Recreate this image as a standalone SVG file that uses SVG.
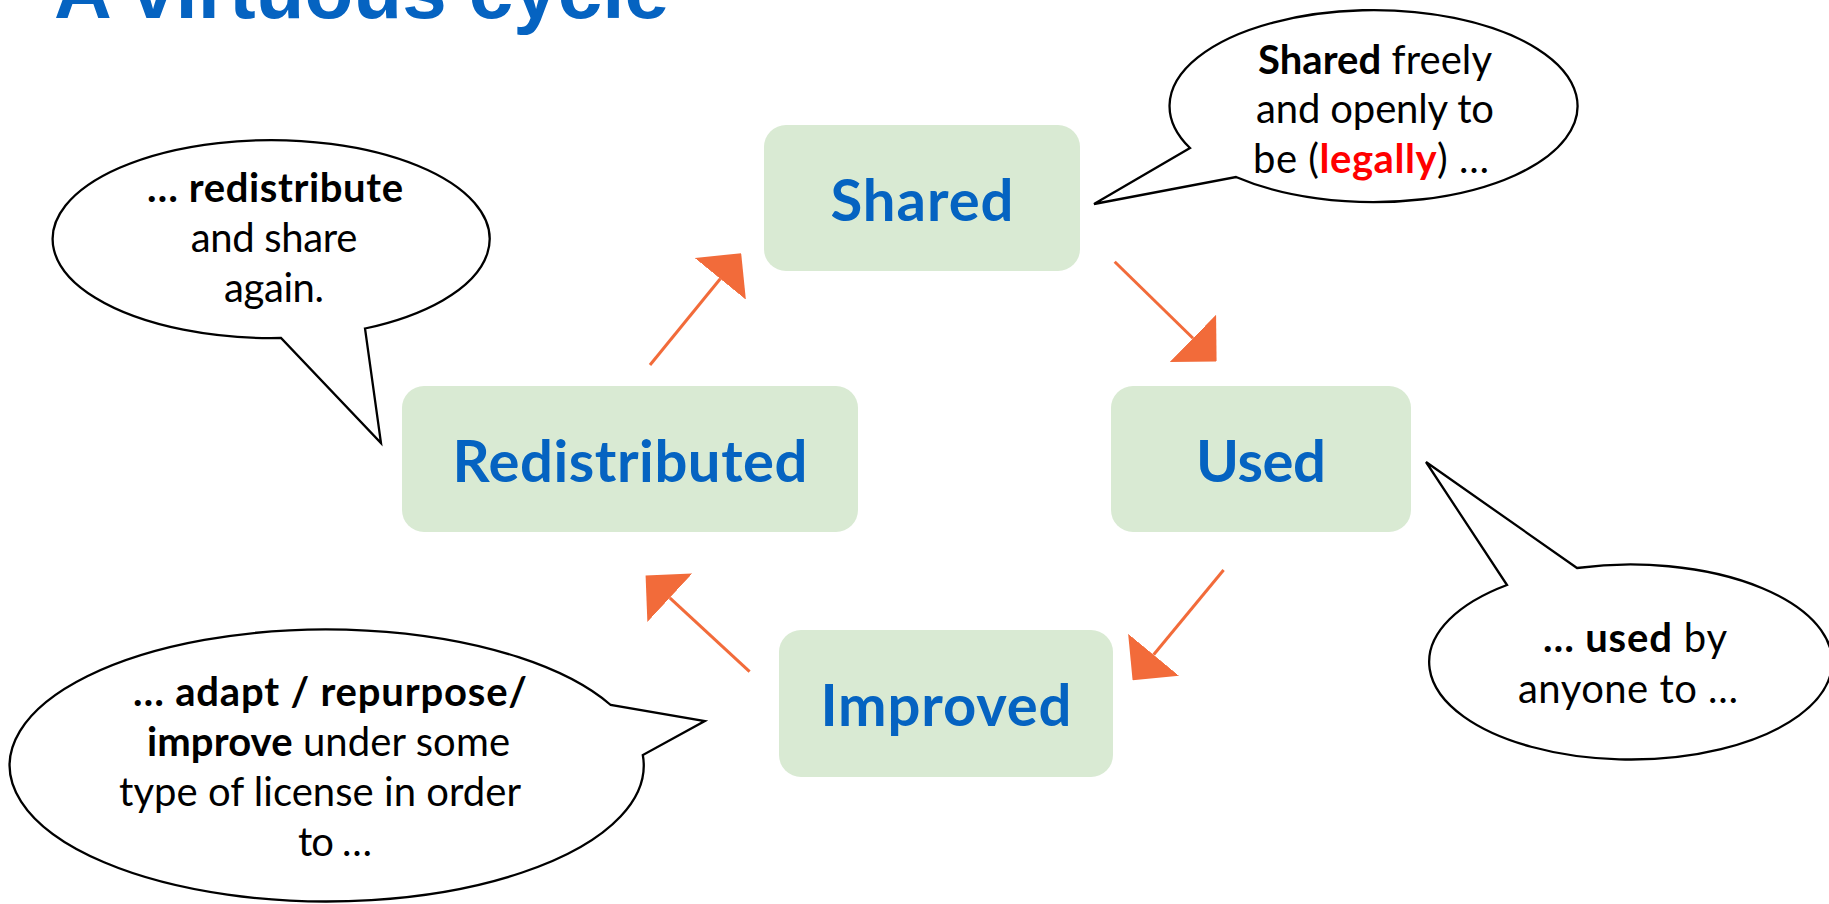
<svg xmlns="http://www.w3.org/2000/svg" width="1829" height="904" viewBox="0 0 1829 904">
  <style>
    .box { fill: #D9EAD3; }
    .lbl { font-family: Lato, 'Open Sans', sans-serif; font-weight: bold; font-size: 58px; fill: #0563C1; text-anchor: middle; }
    .bub { fill: #FFFFFF; stroke: #000000; stroke-width: 2.3; stroke-linejoin: miter; }
    .bt { font-family: Lato, 'Open Sans', sans-serif; font-size: 40px; fill: #000000; }
    .b { font-weight: bold; }
    .red { fill: #FF0000; font-weight: bold; }
    .arr { stroke: #F26B3A; stroke-width: 3; fill: none; marker-end: url(#ah); }
    .title { font-family: 'Liberation Sans', Arial, sans-serif; font-weight: bold; font-size: 80px; fill: #0563C1; }
  </style>
  <defs>
    <marker id="ah" markerUnits="userSpaceOnUse" viewBox="0 0 33 66" markerWidth="33" markerHeight="66" refX="0" refY="33" orient="auto">
      <path d="M0,0 L33,33 L0,66 Z" fill="#F26B3A"/>
    </marker>
  </defs>
  <rect width="1829" height="904" fill="#FFFFFF"/>

  <g id="title">
    <text class="title" x="54" y="18">A virtuous cycle</text>
  </g>

  <g id="connectors">
    <line class="arr" x1="650" y1="365" x2="720.3" y2="278.8"/>
    <line class="arr" x1="1114.7" y1="261.7" x2="1193" y2="338.3"/>
    <line class="arr" x1="1223.6" y1="570" x2="1153.6" y2="654.8"/>
    <line class="arr" x1="749.6" y1="671.7" x2="669.8" y2="597.8"/>
  </g>

  <g id="node-shared">
    <rect class="box" x="764" y="125" width="316" height="146" rx="22" ry="22"/>
    <text class="lbl" x="922" y="221" textLength="183">Shared</text>
  </g>
  <g id="node-redistributed">
    <rect class="box" x="402" y="386" width="456" height="146" rx="22" ry="22"/>
    <text class="lbl" x="630" y="482" textLength="355">Redistributed</text>
  </g>
  <g id="node-used">
    <rect class="box" x="1111" y="386" width="300" height="146" rx="22" ry="22"/>
    <text class="lbl" x="1261" y="482" textLength="130">Used</text>
  </g>
  <g id="node-improved">
    <rect class="box" x="779" y="630" width="334" height="147" rx="22" ry="22"/>
    <text class="lbl" x="946" y="726" textLength="251">Improved</text>
  </g>

  <g id="callout-shared">
    <path class="bub" d="M1190,148 A204,96 0 1 1 1236,177 L1094,204 Z"/>
    <text class="bt" x="1258" y="73.5" textLength="234"><tspan class="b">Shared</tspan> freely</text>
    <text class="bt" x="1256" y="123" textLength="238">and openly to</text>
    <text class="bt" x="1253" y="173" textLength="236">be (<tspan class="red">legally</tspan>) …</text>
  </g>

  <g id="callout-redistribute">
    <path class="bub" d="M281,338 A218.5,99 0 1 1 365,328.5 L381,443 Z"/>
    <text class="bt" x="147" y="201.7" textLength="256"><tspan class="b">… redistribute</tspan></text>
    <text class="bt" x="190.7" y="251.7" textLength="166.6">and share</text>
    <text class="bt" x="224" y="301.7" textLength="100">again.</text>
  </g>

  <g id="callout-used">
    <path class="bub" d="M1577,568 A201.5,97.5 0 1 1 1507,585 L1426,462 Z"/>
    <text class="bt" x="1543" y="651.7" textLength="184"><tspan class="b">… used</tspan> by</text>
    <text class="bt" x="1518" y="703.3" textLength="220">anyone to …</text>
  </g>

  <g id="callout-improve">
    <path class="bub" d="M642.8,755 A317,136 0 1 1 610.7,705 L704.8,721 Z"/>
    <text class="bt" x="133" y="706" textLength="394"><tspan class="b">… adapt / repurpose/</tspan></text>
    <text class="bt" x="147" y="756" textLength="363"><tspan class="b">improve</tspan> under some</text>
    <text class="bt" x="119" y="806" textLength="402">type of license in order</text>
    <text class="bt" x="298" y="856" textLength="74">to …</text>
  </g>
</svg>
